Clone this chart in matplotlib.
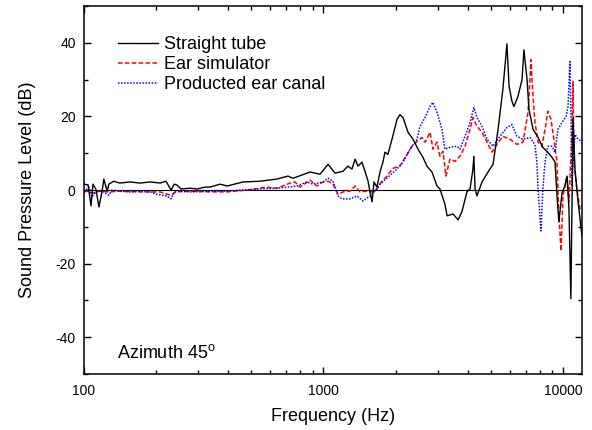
import numpy as np
import matplotlib
matplotlib.use('Agg')
import matplotlib.pyplot as plt
from matplotlib.ticker import FixedLocator, NullFormatter, FuncFormatter, MultipleLocator

plt.rcParams['font.family'] = ['Liberation Sans', 'DejaVu Sans']
plt.rcParams['mathtext.fontset'] = 'custom'
plt.rcParams['mathtext.rm'] = 'Liberation Sans'
plt.rcParams['axes.unicode_minus'] = False

# Straight tube
f_tube = [100, 104, 107, 109, 112, 115.5, 119, 121, 125, 127, 133, 141, 156, 171, 189, 208, 220,
          231, 238, 244, 254, 277, 297, 320, 336, 370, 396, 461, 543, 640, 711, 746, 879, 967,
          1045, 1117, 1206, 1265, 1315, 1355, 1393, 1448, 1490, 1535, 1564, 1595, 1625, 1672,
          1722, 1771, 1806, 1858, 1932, 2028, 2086, 2148, 2254, 2366, 2482, 2602, 2704, 2838,
          2979, 3063, 3214, 3281, 3475, 3648, 3784, 3972, 4092, 4207, 4246, 4295, 4375, 4592,
          4864, 5105, 5358, 5610, 5834, 5957, 6124, 6237, 6486, 6745, 6871, 7079, 7211, 7499,
          7870, 8241, 8570, 8995, 9268, 9441, 9616, 9908, 10186, 10399, 10593, 10790, 10914,
          11015, 11220, 11561, 12000]
db_tube = [1.6, 1.4, -4.3, 1.6, 0.3, -4.6, -0.3, 3.0, -0.3, 1.6, 2.4, 1.9, 2.2, 1.9, 2.2, 1.9, 2.4,
           0.0, 1.6, 1.4, 0.3, 0.5, 0.3, 0.8, 0.8, 1.6, 1.1, 2.2, 2.4, 3.0, 3.8, 3.2, 4.9, 4.3,
           7.0, 4.6, 5.1, 6.5, 5.7, 8.4, 6.5, 7.6, 5.1, 2.4, -0.5, -3.2, 2.2, 0.8,
           4.9, 7.6, 10.3, 9.7, 13.8, 19.2, 20.5, 19.7, 15.7, 13.8, 11.1, 8.9, 6.5, 4.9,
           1.1, 0.3, -3.8, -7.0, -6.5, -8.1, -5.9, -0.5, 0.3, 5.7, 9.2, 0.3, -1.6, 2.2,
           4.9, 7.0, 16.5, 27.3, 39.7, 28.1, 24.1, 22.7, 25.4, 30.0, 38.1, 30.0, 21.9, 16.5,
           14.3, 11.6, 10.5, 8.9, 7.6, -1.6, -8.6, -0.8, 1.1, 3.8, -5.1, -29.5, -2.4,
           19.7, 5.7, -3.2, -12.4]

# Ear simulator
f_sim = [100, 104, 109, 115.5, 127, 141, 171, 208, 222, 231, 242, 277, 336, 396, 480, 543, 570,
         640, 725, 760, 798, 879, 940, 995, 1045, 1096, 1151, 1230, 1290, 1355, 1420, 1520,
         1595, 1672, 1754, 1841, 1950, 2086, 2233, 2344, 2457, 2578, 2655, 2786, 2865, 2979,
         3063, 3155, 3245, 3373, 3540, 3715, 3899, 4092, 4207, 4375, 4592, 4819, 5058, 5297,
         5610, 6012, 6427, 6808, 7145, 7278, 7345, 7499, 7638, 7870, 8166, 8414, 8650, 8913,
         9162, 9441, 9616, 9817, 10000, 10186, 10399, 10593, 10914, 11015, 11117, 11429,
         11776, 12000]
db_sim = [-0.5, -0.3, -0.8, -0.3, -0.5, -0.3, -0.5, -0.5, -1.1, -1.4, -0.5, -0.3, -0.5, -0.5, 0.0, 0.5, 0.8,
          0.5, 1.9, 2.2, 0.8, 2.7, 1.1, 2.2, 2.4, 1.6, -1.1, -0.3, -0.3, 1.1, -0.5, -0.3,
          -0.5, 0.3, 2.4, 3.8, 5.9, 6.5, 9.7, 11.9, 13.2, 14.3, 13.0, 15.7, 11.1, 13.0,
          9.2, 10.5, 3.8, 8.4, 7.8, 9.2, 11.9, 16.5, 19.7, 17.3, 15.7, 13.0, 10.3, 12.4,
          14.6, 13.8, 12.4, 13.0, 21.1, 30.0, 35.4, 25.4, 18.4, 13.0, 11.9, 16.5, 21.4, 19.2,
          13.8, 7.6, -7.0, -16.5, -1.6, 1.1, 3.8, -3.2, 16.5, 29.5, 7.6, 0.3,
          -5.1, -4.3]

# Producted ear canal
f_canal = [100, 105, 108, 112, 119, 127, 131, 141, 156, 171, 190, 200, 222, 231, 238, 249, 277,
           336, 396, 461, 543, 640, 711, 775, 853, 904, 995, 1045, 1096, 1151, 1194, 1290,
           1380, 1462, 1564, 1641, 1722, 1858, 2028, 2148, 2297, 2457, 2529, 2655, 2786, 2865,
           2979, 3125, 3214, 3373, 3606, 3715, 3899, 4092, 4246, 4375, 4592, 4819, 5105, 5458,
           5834, 6124, 6427, 6808, 7278, 7638, 7780, 7870, 8091, 8241, 8414, 8650, 8995, 9268,
           9528, 9908, 10304, 10495, 10691, 10790, 10914, 11015, 11220, 11561, 12000]
db_canal = [-0.5, 0.8, -1.9, -0.5, -0.3, -1.4, 0.0, -0.3, -0.5, -0.3, -0.5, -1.1, -1.6, -2.4, -0.5, -0.3, -0.5,
            -0.3, -0.3, 0.0, 0.3, 0.5, 0.8, 1.1, 2.2, 1.6, 2.2, 3.2, 2.4, -1.6, -2.4, -2.4,
            -1.6, -3.0, -1.6, -0.3, 1.6, 3.5, 5.7, 7.6, 11.1, 13.8, 17.3, 19.7, 22.7, 23.8,
            21.1, 16.5, 11.1, 11.6, 11.9, 11.1, 14.6, 18.4, 22.4, 19.7, 17.3, 13.8, 11.9, 14.6,
            17.0, 17.8, 14.6, 13.8, 14.3, 12.4, 7.6, 0.3, -11.1, 0.3, 7.6, 11.9, 11.9, 10.3,
            16.5, 18.4, 20.0, 22.7, 34.9, 21.1, 1.1, 7.6, 15.1, 13.8, 13.2]

fig = plt.figure(figsize=(5.92, 4.3), dpi=100)
ax = fig.add_axes([0.1419, 0.130, 0.8411, 0.856])

ax.axhline(0, color='black', lw=0.8, zorder=1)
ax.plot(f_tube, db_tube, color='black', lw=1.0, label='Straight tube', zorder=3)
ax.plot(f_sim, db_sim, color='red', lw=1.1, linestyle=(0, (3, 1.5)), label='Ear simulator', zorder=2)
ax.plot(f_canal, db_canal, color='blue', lw=1.1, linestyle=(0, (1, 1)), label='Producted ear canal', zorder=2)

ax.set_xscale('log')
ax.set_xlim(100, 12000)
ax.set_ylim(-50, 50)
ax.xaxis.set_major_locator(FixedLocator([100, 1000, 10000]))
ax.xaxis.set_major_formatter(FuncFormatter(lambda v, p: '%d' % v))
ax.xaxis.set_minor_formatter(NullFormatter())
ax.yaxis.set_major_locator(FixedLocator([-40, -20, 0, 20, 40]))
ax.yaxis.set_minor_locator(MultipleLocator(10))
ax.tick_params(which='both', direction='in', top=True, right=True, width=1.0, labelsize=10)
ax.tick_params(which='major', length=5)
ax.tick_params(which='minor', length=3)
ax.tick_params(axis='x', pad=7)
ax.tick_params(axis='y', pad=6)
for s in ax.spines.values():
    s.set_linewidth(1.1)

ax.set_xlabel('Frequency (Hz)', fontsize=13, labelpad=7)
ax.set_ylabel('Sound Pressure Level (dB)', fontsize=13, labelpad=14)

ax.legend(loc='upper left', bbox_to_anchor=(0.068, 0.919), frameon=False, fontsize=13,
          handlelength=2.2, handletextpad=0.35, labelspacing=0.18, borderpad=0, borderaxespad=0)
ax.text(0.066, 0.057, 'Azimuth 45$^{\\mathrm{o}}$', transform=ax.transAxes, fontsize=13, va='center', ha='left')

fig.savefig('out.png', dpi=100)
